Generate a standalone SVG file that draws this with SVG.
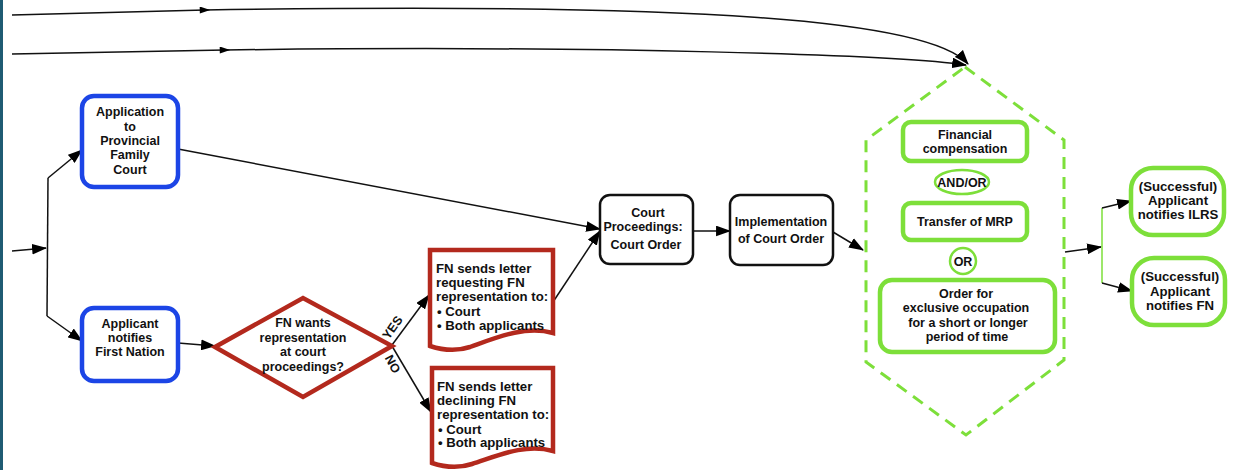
<svg xmlns="http://www.w3.org/2000/svg" width="1234" height="470" viewBox="0 0 1234 470">
<defs>
<marker id="ah" viewBox="0 0 14 10" refX="13" refY="5" markerWidth="15" markerHeight="11" markerUnits="userSpaceOnUse" orient="auto">
<path d="M0,0 L14,5 L0,10 Z" fill="#000"/>
</marker>
<marker id="am" viewBox="0 0 12 8" refX="6" refY="4" markerWidth="12" markerHeight="7" markerUnits="userSpaceOnUse" orient="auto">
<path d="M0,0 L12,4 L0,8 Z" fill="#000"/>
</marker>
</defs>
<style>
text{font-family:"Liberation Sans",Arial,sans-serif;font-size:12.5px;font-weight:bold;fill:#111;}
.c{text-anchor:middle;}
.lg13{font-size:13.2px;}
.blue{fill:#fff;stroke:#1c45e6;stroke-width:4.5;}
.red{fill:#fff;stroke:#b3291d;stroke-width:4.5;}
.blk{fill:#fff;stroke:#111;stroke-width:2.5;}
.grn{fill:#fff;stroke:#7ddf3a;stroke-width:4.5;}
.grn2{fill:#fff;stroke:#7ddf3a;stroke-width:2.5;}
.hex{fill:none;stroke:#7ddf3a;stroke-width:3;stroke-dasharray:12 8;}
.ln{fill:none;stroke:#111;stroke-width:1.5;}
.lg{fill:none;stroke:#7ddf3a;stroke-width:1.5;}
</style>
<rect width="1234" height="470" fill="#fff"/>
<rect x="0" y="0" width="3" height="470" fill="#1f5b73"/>

<g id="hexagon">
<path class="hex" d="M965,67 L1064,140 V360 L966,435 L866,362 V140 Z"/>
</g>

<g id="connectors">
<path class="ln" d="M12,15 L205,10 C700,2 930,20 968,64" marker-mid="url(#am)" marker-end="url(#ah)"/>
<path class="ln" d="M12,54 L225,50 C600,45 900,55 966,65" marker-mid="url(#am)" marker-end="url(#ah)"/>
<path class="ln" d="M12,251 L46,248" marker-end="url(#ah)"/>
<path class="ln" d="M48,178 L47,316"/>
<path class="ln" d="M48,178 L82,150" marker-end="url(#ah)"/>
<path class="ln" d="M47,316 L82,341" marker-end="url(#ah)"/>
<path class="ln" d="M178,343 L215,346" marker-end="url(#ah)"/>
<path class="ln" d="M178,149 L600,229" marker-end="url(#ah)"/>
<path class="ln" d="M392,345 L429,295" marker-end="url(#ah)"/>
<path class="ln" d="M392,346 L431,412" marker-end="url(#ah)"/>
<path class="ln" d="M553,302 L600,231" marker-end="url(#ah)"/>
<path class="ln" d="M693,231 L730,231" marker-end="url(#ah)"/>
<path class="ln" d="M833,232 L863,250" marker-end="url(#ah)"/>
<path class="ln" d="M1065,252 L1101,247" marker-end="url(#ah)"/>
<path class="lg" d="M1102,208 L1102,283"/>
<path class="ln" d="M1102,208 L1131,201" marker-end="url(#ah)"/>
<path class="ln" d="M1102,283 L1132,291" marker-end="url(#ah)"/>
</g>

<g id="application">
<rect class="blue" x="82" y="96" width="96" height="91" rx="12"/>
<text class="c" x="130" y="116">Application</text>
<text class="c" x="130" y="130.5">to</text>
<text class="c" x="130" y="145">Provincial</text>
<text class="c" x="130" y="159">Family</text>
<text class="c" x="130" y="173.5">Court</text>
</g>

<g id="applicant-notifies">
<rect class="blue" x="82" y="308" width="96" height="73" rx="12"/>
<text class="c" x="130" y="328">Applicant</text>
<text class="c" x="130" y="342">notifies</text>
<text class="c" x="130" y="356">First Nation</text>
</g>

<g id="decision">
<path class="red" d="M215,347 L303,298 L392,346 L303,397 Z"/>
<text class="c" x="303" y="327">FN wants</text>
<text class="c" x="303" y="342">representation</text>
<text class="c" x="303" y="356">at court</text>
<text class="c" x="303" y="371">proceedings?</text>
<text class="c" x="396" y="330" transform="rotate(-55 396 330)">YES</text>
<text class="c" x="389" y="366" transform="rotate(62 389 366)">NO</text>
</g>

<g id="letter-requesting">
<path class="red" d="M430,250 H553 V333 C525,325 495,338 470,347 C455,352 442,350 430,346 Z"/>
<text class="lg13" x="436" y="273">FN sends letter</text>
<text class="lg13" x="436" y="287">requesting FN</text>
<text class="lg13" x="436" y="301">representation to:</text>
<text class="lg13" x="437" y="316">• Court</text>
<text class="lg13" x="437" y="330">• Both applicants</text>
</g>

<g id="letter-declining">
<path class="red" d="M432,368 H553 V451 C525,443 497,456 472,464 C457,469 444,467 432,463 Z"/>
<text class="lg13" x="437" y="391">FN sends letter</text>
<text class="lg13" x="437" y="405">declining FN</text>
<text class="lg13" x="437" y="419">representation to:</text>
<text class="lg13" x="438" y="434">• Court</text>
<text class="lg13" x="438" y="447">• Both applicants</text>
</g>

<g id="court-proceedings">
<rect class="blk" x="600" y="195" width="93" height="69" rx="10"/>
<text class="c" x="648" y="217">Court</text>
<text class="c" x="643" y="231">Proceedings:</text>
<text class="c" x="646" y="249">Court Order</text>
</g>

<g id="implementation">
<rect class="blk" x="730" y="195" width="103" height="70" rx="10"/>
<text class="c" x="781" y="226">Implementation</text>
<text class="c" x="781" y="243">of Court Order</text>
</g>

<g id="financial">
<rect class="grn" x="903" y="122" width="124" height="39" rx="8"/>
<text class="c" x="965" y="139">Financial</text>
<text class="c" x="965" y="153">compensation</text>
</g>

<g id="and-or">
<ellipse class="grn2" cx="962" cy="182" rx="27" ry="12"/>
<text class="c" x="962" y="186.5">AND/OR</text>
</g>

<g id="transfer">
<rect class="grn" x="903" y="203" width="124" height="37" rx="8"/>
<text class="c" x="965" y="225.5">Transfer of MRP</text>
</g>

<g id="or">
<circle class="grn2" cx="963" cy="261" r="13"/>
<text class="c" x="963" y="265.5">OR</text>
</g>

<g id="order">
<rect class="grn" x="880" y="280" width="175" height="72" rx="12"/>
<text class="c" x="966" y="298">Order  for</text>
<text class="c" x="966" y="312">exclusive occupation</text>
<text class="c" x="968" y="327">for a short or longer</text>
<text class="c" x="967" y="341">period of time</text>
</g>

<g id="notifies-ilrs">
<rect class="grn" x="1131" y="168" width="93" height="67" rx="22"/>
<text class="c lg13" x="1178" y="191">(Successful)</text>
<text class="c lg13" x="1178" y="205">Applicant</text>
<text class="c lg13" x="1178" y="219">notifies ILRS</text>
</g>

<g id="notifies-fn">
<rect class="grn" x="1132" y="258" width="93" height="67" rx="22"/>
<text class="c lg13" x="1180" y="281">(Successful)</text>
<text class="c lg13" x="1180" y="296">Applicant</text>
<text class="c lg13" x="1180" y="310">notifies FN</text>
</g>
</svg>
